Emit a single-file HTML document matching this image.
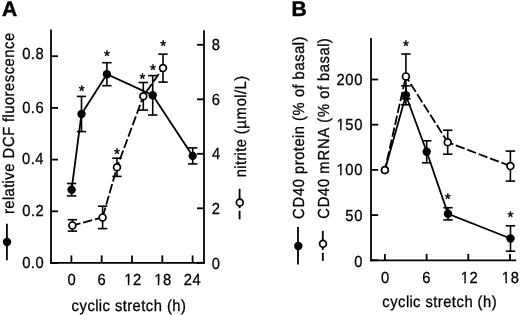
<!DOCTYPE html>
<html><head><meta charset="utf-8"><style>
html,body{margin:0;padding:0;background:#fff;}
svg{display:block;filter:grayscale(1) blur(0.3px);}
text{font-family:"Liberation Sans",sans-serif;fill:#000;font-kerning:none;font-variant-ligatures:none;text-rendering:geometricPrecision;}
</style></head><body>
<svg width="520" height="315" viewBox="0 0 520 315">
<text x="2.08" y="16.20" font-size="21.0" font-weight="bold" stroke="#000" stroke-width="0.5">A</text>
<line x1="51.00" y1="29.50" x2="51.00" y2="263.70" stroke="#000" stroke-width="1.8"/>
<line x1="204.00" y1="30.20" x2="204.00" y2="263.70" stroke="#000" stroke-width="1.8"/>
<line x1="50.10" y1="262.80" x2="204.90" y2="262.80" stroke="#000" stroke-width="1.8"/>
<line x1="51.00" y1="263.00" x2="58.00" y2="263.00" stroke="#000" stroke-width="1.8"/>
<g transform="translate(21.80 267.76) scale(0.92 1)"><text x="0.36 9.79 14.77" y="0" font-size="16.0" stroke="#000" stroke-width="0.3">0.0</text></g>
<line x1="51.00" y1="211.30" x2="58.00" y2="211.30" stroke="#000" stroke-width="1.8"/>
<g transform="translate(21.97 216.26) scale(0.92 1)"><text x="0.36 9.79 14.77" y="0" font-size="16.0" stroke="#000" stroke-width="0.3">0.2</text></g>
<line x1="51.00" y1="159.60" x2="58.00" y2="159.60" stroke="#000" stroke-width="1.8"/>
<g transform="translate(21.66 163.81) scale(0.92 1)"><text x="0.36 9.79 14.77" y="0" font-size="16.0" stroke="#000" stroke-width="0.3">0.4</text></g>
<line x1="51.00" y1="107.90" x2="58.00" y2="107.90" stroke="#000" stroke-width="1.8"/>
<g transform="translate(21.87 113.01) scale(0.92 1)"><text x="0.36 9.79 14.77" y="0" font-size="16.0" stroke="#000" stroke-width="0.3">0.6</text></g>
<line x1="51.00" y1="56.20" x2="58.00" y2="56.20" stroke="#000" stroke-width="1.8"/>
<g transform="translate(21.86 59.31) scale(0.92 1)"><text x="0.36 9.79 14.77" y="0" font-size="16.0" stroke="#000" stroke-width="0.3">0.8</text></g>
<line x1="197.00" y1="262.80" x2="204.00" y2="262.80" stroke="#000" stroke-width="1.8"/>
<g transform="translate(211.50 268.91) scale(0.92 1)"><text x="0.36" y="0" font-size="16.0" stroke="#000" stroke-width="0.3">0</text></g>
<line x1="197.00" y1="208.30" x2="204.00" y2="208.30" stroke="#000" stroke-width="1.8"/>
<g transform="translate(211.33 213.81) scale(0.92 1)"><text x="0.36" y="0" font-size="16.0" stroke="#000" stroke-width="0.3">2</text></g>
<line x1="197.00" y1="153.80" x2="204.00" y2="153.80" stroke="#000" stroke-width="1.8"/>
<g transform="translate(211.73 159.11) scale(0.92 1)"><text x="0.36" y="0" font-size="16.0" stroke="#000" stroke-width="0.3">4</text></g>
<line x1="197.00" y1="99.30" x2="204.00" y2="99.30" stroke="#000" stroke-width="1.8"/>
<g transform="translate(211.32 104.81) scale(0.92 1)"><text x="0.36" y="0" font-size="16.0" stroke="#000" stroke-width="0.3">6</text></g>
<line x1="197.00" y1="44.80" x2="204.00" y2="44.80" stroke="#000" stroke-width="1.8"/>
<g transform="translate(211.43 50.16) scale(0.92 1)"><text x="0.36" y="0" font-size="16.0" stroke="#000" stroke-width="0.3">8</text></g>
<line x1="71.40" y1="262.80" x2="71.40" y2="255.40" stroke="#000" stroke-width="1.8"/>
<g transform="translate(67.23 284.91) scale(0.92 1)"><text x="0.36" y="0" font-size="16.0" stroke="#000" stroke-width="0.3">0</text></g>
<line x1="101.70" y1="262.80" x2="101.70" y2="255.40" stroke="#000" stroke-width="1.8"/>
<g transform="translate(97.23 284.91) scale(0.92 1)"><text x="0.36" y="0" font-size="16.0" stroke="#000" stroke-width="0.3">6</text></g>
<line x1="132.00" y1="262.80" x2="132.00" y2="255.40" stroke="#000" stroke-width="1.8"/>
<g transform="translate(123.87 284.91) scale(0.92 1)"><text x="0.36 9.97" y="0" font-size="16.0" stroke="#000" stroke-width="0.3">12</text><rect x="0.71" y="-2.50" width="3.52" height="4.10" fill="#fff"/><rect x="5.95" y="-2.50" width="3.18" height="4.10" fill="#fff"/></g>
<line x1="162.30" y1="262.80" x2="162.30" y2="255.40" stroke="#000" stroke-width="1.8"/>
<g transform="translate(153.82 284.91) scale(0.92 1)"><text x="0.36 9.97" y="0" font-size="16.0" stroke="#000" stroke-width="0.3">18</text><rect x="0.71" y="-2.50" width="3.52" height="4.10" fill="#fff"/><rect x="5.95" y="-2.50" width="3.18" height="4.10" fill="#fff"/></g>
<line x1="192.60" y1="262.80" x2="192.60" y2="255.40" stroke="#000" stroke-width="1.8"/>
<g transform="translate(183.30 284.91) scale(0.92 1)"><text x="0.36 9.97" y="0" font-size="16.0" stroke="#000" stroke-width="0.3">24</text></g>
<g transform="translate(71.32 310.50) scale(0.92 1)"><text x="0.32 8.96 17.60 26.07 29.91 33.92 42.42 47.37 55.87 60.70 66.60 76.03 80.98 89.66 99.09 103.93 109.82 119.29" y="0" font-size="16.0" stroke="#000" stroke-width="0.3">cyclic stretch (h)</text></g>
<g transform="translate(13.60 214.24) rotate(-90) scale(0.92 1)"><text x="0.20 6.05 15.40 19.41 28.80 33.54 37.52 46.14 55.53 60.56 72.96 85.30 95.59 100.36 105.10 109.11 118.67 128.09 133.94 143.45 152.04 160.66 170.21 179.73 188.35" y="0" font-size="16.0" stroke="#000" stroke-width="0.3">relative DCF fluorescence</text></g>
<g transform="translate(245.60 177.61) rotate(-90) scale(0.92 1)"><text x="0.36 9.75 13.63 18.47 24.15 28.03 33.01 42.44 47.28 53.19 63.31 77.53 86.93 90.80 95.78 105.25" y="0" font-size="16.0" stroke="#000" stroke-width="0.3">nitrite (&#181;mol/L)</text></g>
<line x1="6.90" y1="223.70" x2="6.90" y2="260.20" stroke="#000" stroke-width="1.8"/>
<circle cx="7" cy="242" r="4.2" fill="#000"/>
<line x1="239.60" y1="188.80" x2="239.60" y2="208.20" stroke="#000" stroke-width="1.8"/>
<line x1="239.60" y1="210.70" x2="239.60" y2="219.30" stroke="#000" stroke-width="1.8"/>
<circle cx="239.8" cy="202.5" r="3.4" fill="#fff" stroke="#000" stroke-width="1.7"/>
<line x1="72.40" y1="219.70" x2="72.40" y2="231.10" stroke="#000" stroke-width="1.6"/>
<line x1="67.70" y1="219.70" x2="77.10" y2="219.70" stroke="#000" stroke-width="1.6"/>
<line x1="67.70" y1="231.10" x2="77.10" y2="231.10" stroke="#000" stroke-width="1.6"/>
<line x1="102.60" y1="206.20" x2="102.60" y2="228.60" stroke="#000" stroke-width="1.6"/>
<line x1="97.90" y1="206.20" x2="107.30" y2="206.20" stroke="#000" stroke-width="1.6"/>
<line x1="97.90" y1="228.60" x2="107.30" y2="228.60" stroke="#000" stroke-width="1.6"/>
<line x1="117.00" y1="158.20" x2="117.00" y2="176.40" stroke="#000" stroke-width="1.6"/>
<line x1="112.30" y1="158.20" x2="121.70" y2="158.20" stroke="#000" stroke-width="1.6"/>
<line x1="112.30" y1="176.40" x2="121.70" y2="176.40" stroke="#000" stroke-width="1.6"/>
<line x1="143.30" y1="82.50" x2="143.30" y2="110.10" stroke="#000" stroke-width="1.6"/>
<line x1="138.60" y1="82.50" x2="148.00" y2="82.50" stroke="#000" stroke-width="1.6"/>
<line x1="138.60" y1="110.10" x2="148.00" y2="110.10" stroke="#000" stroke-width="1.6"/>
<line x1="163.00" y1="54.10" x2="163.00" y2="82.10" stroke="#000" stroke-width="1.6"/>
<line x1="158.30" y1="54.10" x2="167.70" y2="54.10" stroke="#000" stroke-width="1.6"/>
<line x1="158.30" y1="82.10" x2="167.70" y2="82.10" stroke="#000" stroke-width="1.6"/>
<line x1="71.60" y1="183.50" x2="71.60" y2="195.90" stroke="#000" stroke-width="1.6"/>
<line x1="66.90" y1="183.50" x2="76.30" y2="183.50" stroke="#000" stroke-width="1.6"/>
<line x1="66.90" y1="195.90" x2="76.30" y2="195.90" stroke="#000" stroke-width="1.6"/>
<line x1="81.50" y1="96.40" x2="81.50" y2="131.60" stroke="#000" stroke-width="1.6"/>
<line x1="76.80" y1="96.40" x2="86.20" y2="96.40" stroke="#000" stroke-width="1.6"/>
<line x1="76.80" y1="131.60" x2="86.20" y2="131.60" stroke="#000" stroke-width="1.6"/>
<line x1="106.90" y1="62.70" x2="106.90" y2="85.70" stroke="#000" stroke-width="1.6"/>
<line x1="102.20" y1="62.70" x2="111.60" y2="62.70" stroke="#000" stroke-width="1.6"/>
<line x1="102.20" y1="85.70" x2="111.60" y2="85.70" stroke="#000" stroke-width="1.6"/>
<line x1="152.70" y1="75.60" x2="152.70" y2="115.00" stroke="#000" stroke-width="1.6"/>
<line x1="148.00" y1="75.60" x2="157.40" y2="75.60" stroke="#000" stroke-width="1.6"/>
<line x1="148.00" y1="115.00" x2="157.40" y2="115.00" stroke="#000" stroke-width="1.6"/>
<line x1="192.70" y1="147.90" x2="192.70" y2="163.90" stroke="#000" stroke-width="1.6"/>
<line x1="188.00" y1="147.90" x2="197.40" y2="147.90" stroke="#000" stroke-width="1.6"/>
<line x1="188.00" y1="163.90" x2="197.40" y2="163.90" stroke="#000" stroke-width="1.6"/>
<line x1="72.40" y1="225.40" x2="102.60" y2="217.40" stroke="#000" stroke-width="1.8" stroke-dasharray="9.4 2.8" stroke-dashoffset="1.1"/>
<line x1="102.60" y1="217.40" x2="117.00" y2="167.30" stroke="#000" stroke-width="1.8" stroke-dasharray="9.4 2.8" stroke-dashoffset="11.35"/>
<line x1="117.00" y1="167.30" x2="143.30" y2="96.30" stroke="#000" stroke-width="1.8" stroke-dasharray="9.4 2.8" stroke-dashoffset="3.85"/>
<line x1="143.30" y1="96.30" x2="163.00" y2="68.10" stroke="#000" stroke-width="1.8" stroke-dasharray="9.4 2.8" stroke-dashoffset="6.7"/>
<polyline points="71.6,189.7 81.5,114 106.9,74.2 152.7,95.3 192.7,155.9" fill="none" stroke="#000" stroke-width="1.8"/>
<circle cx="72.4" cy="225.4" r="3.4" fill="#fff" stroke="#000" stroke-width="1.7"/>
<circle cx="102.6" cy="217.4" r="3.4" fill="#fff" stroke="#000" stroke-width="1.7"/>
<circle cx="117" cy="167.3" r="3.4" fill="#fff" stroke="#000" stroke-width="1.7"/>
<circle cx="143.3" cy="96.3" r="3.4" fill="#fff" stroke="#000" stroke-width="1.7"/>
<circle cx="163" cy="68.1" r="3.4" fill="#fff" stroke="#000" stroke-width="1.7"/>
<circle cx="71.6" cy="189.7" r="4.2" fill="#000"/>
<circle cx="81.5" cy="114" r="4.2" fill="#000"/>
<circle cx="106.9" cy="74.2" r="4.2" fill="#000"/>
<circle cx="152.7" cy="95.3" r="4.2" fill="#000"/>
<circle cx="192.7" cy="155.9" r="4.2" fill="#000"/>
<text x="78.84" y="95.79" font-size="15.2" stroke="#000" stroke-width="0.4">*</text>
<text x="104.04" y="61.09" font-size="15.2" stroke="#000" stroke-width="0.4">*</text>
<text x="114.04" y="158.79" font-size="15.2" stroke="#000" stroke-width="0.4">*</text>
<text x="139.54" y="83.79" font-size="15.2" stroke="#000" stroke-width="0.4">*</text>
<text x="150.04" y="74.79" font-size="15.2" stroke="#000" stroke-width="0.4">*</text>
<text x="160.34" y="51.09" font-size="15.2" stroke="#000" stroke-width="0.4">*</text>
<text x="291.59" y="16.20" font-size="21.0" font-weight="bold" stroke="#000" stroke-width="0.5">B</text>
<line x1="371.00" y1="37.90" x2="371.00" y2="261.20" stroke="#000" stroke-width="1.8"/>
<line x1="370.10" y1="260.30" x2="516.20" y2="260.30" stroke="#000" stroke-width="1.8"/>
<line x1="371.00" y1="260.30" x2="378.20" y2="260.30" stroke="#000" stroke-width="1.8"/>
<g transform="translate(353.86 266.61) scale(0.92 1)"><text x="0.36" y="0" font-size="16.0" stroke="#000" stroke-width="0.3">0</text></g>
<line x1="371.00" y1="215.10" x2="378.20" y2="215.10" stroke="#000" stroke-width="1.8"/>
<g transform="translate(345.02 221.31) scale(0.92 1)"><text x="0.36 9.97" y="0" font-size="16.0" stroke="#000" stroke-width="0.3">50</text></g>
<line x1="371.00" y1="169.90" x2="378.20" y2="169.90" stroke="#000" stroke-width="1.8"/>
<g transform="translate(336.17 175.41) scale(0.92 1)"><text x="0.36 9.97 19.58" y="0" font-size="16.0" stroke="#000" stroke-width="0.3">100</text><rect x="0.71" y="-2.50" width="3.52" height="4.10" fill="#fff"/><rect x="5.95" y="-2.50" width="3.18" height="4.10" fill="#fff"/></g>
<line x1="371.00" y1="124.70" x2="378.20" y2="124.70" stroke="#000" stroke-width="1.8"/>
<g transform="translate(336.17 130.21) scale(0.92 1)"><text x="0.36 9.97 19.58" y="0" font-size="16.0" stroke="#000" stroke-width="0.3">150</text><rect x="0.71" y="-2.50" width="3.52" height="4.10" fill="#fff"/><rect x="5.95" y="-2.50" width="3.18" height="4.10" fill="#fff"/></g>
<line x1="371.00" y1="79.50" x2="378.20" y2="79.50" stroke="#000" stroke-width="1.8"/>
<g transform="translate(336.17 84.96) scale(0.92 1)"><text x="0.36 9.97 19.58" y="0" font-size="16.0" stroke="#000" stroke-width="0.3">200</text></g>
<line x1="384.90" y1="260.30" x2="384.90" y2="253.90" stroke="#000" stroke-width="1.8"/>
<g transform="translate(380.78 283.01) scale(0.92 1)"><text x="0.36" y="0" font-size="16.0" stroke="#000" stroke-width="0.3">0</text></g>
<line x1="426.60" y1="260.30" x2="426.60" y2="253.90" stroke="#000" stroke-width="1.8"/>
<g transform="translate(421.98 283.01) scale(0.92 1)"><text x="0.36" y="0" font-size="16.0" stroke="#000" stroke-width="0.3">6</text></g>
<line x1="468.30" y1="260.30" x2="468.30" y2="253.90" stroke="#000" stroke-width="1.8"/>
<g transform="translate(460.37 283.01) scale(0.92 1)"><text x="0.36 9.97" y="0" font-size="16.0" stroke="#000" stroke-width="0.3">12</text><rect x="0.71" y="-2.50" width="3.52" height="4.10" fill="#fff"/><rect x="5.95" y="-2.50" width="3.18" height="4.10" fill="#fff"/></g>
<line x1="510.00" y1="260.30" x2="510.00" y2="253.90" stroke="#000" stroke-width="1.8"/>
<g transform="translate(501.52 283.01) scale(0.92 1)"><text x="0.36 9.97" y="0" font-size="16.0" stroke="#000" stroke-width="0.3">18</text><rect x="0.71" y="-2.50" width="3.52" height="4.10" fill="#fff"/><rect x="5.95" y="-2.50" width="3.18" height="4.10" fill="#fff"/></g>
<g transform="translate(381.92 306.60) scale(0.92 1)"><text x="0.32 8.96 17.60 26.07 29.91 33.92 42.42 47.37 55.87 60.70 66.60 76.03 80.98 89.66 99.09 103.93 109.82 119.29" y="0" font-size="16.0" stroke="#000" stroke-width="0.3">cyclic stretch (h)</text></g>
<g transform="translate(303.94 219.35) rotate(-90) scale(0.92 1)"><text x="0.46 12.94 25.32 34.93 44.36 49.34 58.81 64.71 74.14 79.12 88.52 92.58 102.01 106.85 112.96 127.93 132.91 142.35 147.15 152.13 161.74 171.32 179.99 189.39 193.30" y="0" font-size="16.0" stroke="#000" stroke-width="0.3">CD40 protein (% of basal)</text></g>
<g transform="translate(328.74 219.20) rotate(-90) scale(0.92 1)"><text x="0.46 12.94 25.32 34.93 44.36 49.52 63.85 76.33 88.77 100.05 104.89 111.00 125.97 130.96 140.39 145.19 150.17 159.78 169.36 178.04 187.43 191.34" y="0" font-size="16.0" stroke="#000" stroke-width="0.3">CD40 mRNA (% of basal)</text></g>
<line x1="298.00" y1="227.10" x2="298.00" y2="264.40" stroke="#000" stroke-width="1.8"/>
<circle cx="298.3" cy="246" r="4.2" fill="#000"/>
<line x1="322.80" y1="230.80" x2="322.80" y2="250.10" stroke="#000" stroke-width="1.8"/>
<line x1="322.80" y1="252.70" x2="322.80" y2="260.90" stroke="#000" stroke-width="1.8"/>
<circle cx="323" cy="243.8" r="3.4" fill="#fff" stroke="#000" stroke-width="1.7"/>
<line x1="405.90" y1="54.00" x2="405.90" y2="98.80" stroke="#000" stroke-width="1.6"/>
<line x1="401.20" y1="54.00" x2="410.60" y2="54.00" stroke="#000" stroke-width="1.6"/>
<line x1="401.20" y1="98.80" x2="410.60" y2="98.80" stroke="#000" stroke-width="1.6"/>
<line x1="447.70" y1="130.20" x2="447.70" y2="154.20" stroke="#000" stroke-width="1.6"/>
<line x1="443.00" y1="130.20" x2="452.40" y2="130.20" stroke="#000" stroke-width="1.6"/>
<line x1="443.00" y1="154.20" x2="452.40" y2="154.20" stroke="#000" stroke-width="1.6"/>
<line x1="510.40" y1="151.10" x2="510.40" y2="181.10" stroke="#000" stroke-width="1.6"/>
<line x1="505.70" y1="151.10" x2="515.10" y2="151.10" stroke="#000" stroke-width="1.6"/>
<line x1="505.70" y1="181.10" x2="515.10" y2="181.10" stroke="#000" stroke-width="1.6"/>
<line x1="405.90" y1="85.80" x2="405.90" y2="104.80" stroke="#000" stroke-width="1.6"/>
<line x1="401.20" y1="85.80" x2="410.60" y2="85.80" stroke="#000" stroke-width="1.6"/>
<line x1="401.20" y1="104.80" x2="410.60" y2="104.80" stroke="#000" stroke-width="1.6"/>
<line x1="426.70" y1="140.80" x2="426.70" y2="162.80" stroke="#000" stroke-width="1.6"/>
<line x1="422.00" y1="140.80" x2="431.40" y2="140.80" stroke="#000" stroke-width="1.6"/>
<line x1="422.00" y1="162.80" x2="431.40" y2="162.80" stroke="#000" stroke-width="1.6"/>
<line x1="448.00" y1="207.70" x2="448.00" y2="219.90" stroke="#000" stroke-width="1.6"/>
<line x1="443.30" y1="207.70" x2="452.70" y2="207.70" stroke="#000" stroke-width="1.6"/>
<line x1="443.30" y1="219.90" x2="452.70" y2="219.90" stroke="#000" stroke-width="1.6"/>
<line x1="510.50" y1="225.80" x2="510.50" y2="251.20" stroke="#000" stroke-width="1.6"/>
<line x1="505.80" y1="225.80" x2="515.20" y2="225.80" stroke="#000" stroke-width="1.6"/>
<line x1="505.80" y1="251.20" x2="515.20" y2="251.20" stroke="#000" stroke-width="1.6"/>
<polyline points="384.9,170 405.9,95.3 426.7,151.8 448,213.8 510.5,238.5" fill="none" stroke="#000" stroke-width="1.8"/>
<line x1="384.90" y1="170.00" x2="405.90" y2="76.40" stroke="#000" stroke-width="1.8" stroke-dasharray="9.4 2.8" stroke-dashoffset="2.5"/>
<line x1="405.90" y1="76.40" x2="447.70" y2="142.20" stroke="#000" stroke-width="1.8" stroke-dasharray="9.4 2.8" stroke-dashoffset="3.3"/>
<line x1="447.70" y1="142.20" x2="510.40" y2="166.10" stroke="#000" stroke-width="1.8" stroke-dasharray="9.4 2.8" stroke-dashoffset="3.5"/>
<circle cx="384.9" cy="170" r="4.2" fill="#000"/>
<circle cx="405.9" cy="95.3" r="4.2" fill="#000"/>
<circle cx="426.7" cy="151.8" r="4.2" fill="#000"/>
<circle cx="448" cy="213.8" r="4.2" fill="#000"/>
<circle cx="510.5" cy="238.5" r="4.2" fill="#000"/>
<circle cx="384.9" cy="170" r="3.4" fill="#fff" stroke="#000" stroke-width="1.7"/>
<circle cx="405.9" cy="76.4" r="3.4" fill="#fff" stroke="#000" stroke-width="1.7"/>
<circle cx="447.7" cy="142.2" r="3.4" fill="#fff" stroke="#000" stroke-width="1.7"/>
<circle cx="510.4" cy="166.1" r="3.4" fill="#fff" stroke="#000" stroke-width="1.7"/>
<text x="402.94" y="51.19" font-size="15.2" stroke="#000" stroke-width="0.4">*</text>
<text x="444.84" y="203.89" font-size="15.2" stroke="#000" stroke-width="0.4">*</text>
<text x="507.54" y="222.19" font-size="15.2" stroke="#000" stroke-width="0.4">*</text>
</svg>
</body></html>
